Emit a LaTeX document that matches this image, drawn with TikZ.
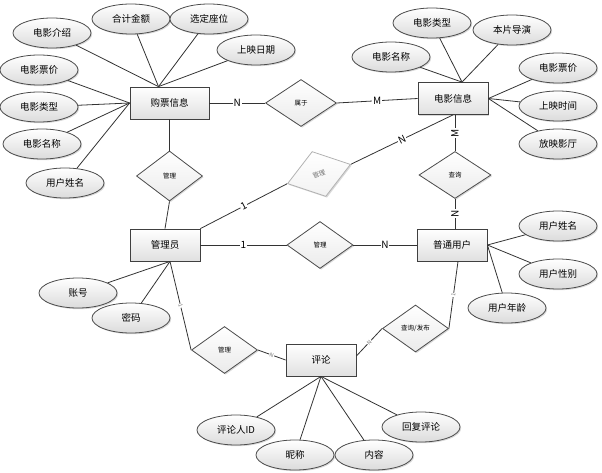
\documentclass[tikz,border=0pt]{standalone}
\usepackage{fontspec}
\setmainfont{Noto Sans CJK SC}
\usepackage{tikz}
\usetikzlibrary{shapes.geometric,shadows}

\begin{document}
\begin{tikzpicture}[x=1pt,y=-1pt,line width=0.8pt,
    every node/.style={font=\fontsize{9.5}{11}\selectfont},
    shade/.style={drop shadow={shadow xshift=1.2pt,shadow yshift=-1.2pt,opacity=.3}},
    entity/.style={rectangle,draw=black!75,minimum width=70pt,minimum height=32pt,
        top color=white,bottom color=black!12,shade},
    attr/.style={ellipse,draw=black!70,minimum width=78pt,minimum height=30pt,inner sep=0pt,
        top color=white,bottom color=black!14,shade},
    relation/.style={diamond,draw=black!70,minimum width=66pt,minimum height=47pt,inner sep=0pt,
        top color=white,bottom color=black!8,shade,font=\fontsize{6.5}{8}\selectfont},
    link/.style={draw=black!80},
    card/.style={fill=white,inner sep=0.8pt,font=\fontsize{10}{11}\selectfont},
    tinycard/.style={fill=white,inner sep=0.5pt,sloped,text=black!55,font=\fontsize{5.5}{6}\selectfont}]

    \useasboundingbox (0,0) rectangle (602,473);

    % Entities
    \node[entity,minimum width=79pt] (ticket) at (169.5,103) {购票信息};
    \node[entity] (movie) at (453,98.5) {电影信息};
    \node[entity] (admin) at (165,245) {管理员};
    \node[entity] (user) at (452,245) {普通用户};
    \node[entity] (comment) at (321,360) {评论};

    % Relations
    \node[relation,minimum width=71pt] (belong) at (301,103) {属于};
    \node[relation,minimum height=50pt] (manT) at (169.5,176) {管理};
    \node[relation,rotate=17,draw=black!30,text=black!55,bottom color=black!5] (manM) at (319,174) {管理};
    \node[relation,minimum width=72pt] (query) at (455,175) {查询};
    \node[relation] (manU) at (320,245) {管理};
    \node[relation] (manC) at (224.5,350) {管理};
    \node[relation] (publish) at (415.5,328.5) {查询/发布};

    % Attributes of 购票信息
    \node[attr] (tIntro) at (52,33) {电影介绍};
    \node[attr] (tTotal) at (131,19) {合计金额};
    \node[attr] (tSeat) at (209,19) {选定座位};
    \node[attr] (tDate) at (256,50) {上映日期};
    \node[attr] (tPrice) at (39,70) {电影票价};
    \node[attr] (tType) at (39,107) {电影类型};
    \node[attr] (tName) at (42,144) {电影名称};
    \node[attr] (tUser) at (65,183) {用户姓名};

    % Attributes of 电影信息
    \node[attr] (mName) at (391,57) {电影名称};
    \node[attr] (mType) at (432,23) {电影类型};
    \node[attr] (mDirector) at (512,30) {本片导演};
    \node[attr] (mPrice) at (558,68) {电影票价};
    \node[attr] (mTime) at (558,106) {上映时间};
    \node[attr] (mHall) at (558,144) {放映影厅};

    % Attributes of 普通用户, 管理员, 评论
    \node[attr] (uName) at (558,226) {用户姓名};
    \node[attr] (uSex) at (558,274) {用户性别};
    \node[attr] (uAge) at (507,308) {用户年龄};
    \node[attr] (aAccount) at (78,293) {账号};
    \node[attr] (aPassword) at (131,318) {密码};
    \node[attr] (cId) at (236,430) {评论人ID};
    \node[attr] (cNick) at (295,455) {昵称};
    \node[attr] (cText) at (374,455) {内容};
    \node[attr] (cReply) at (421,427) {回复评论};

    % Attribute links
    \foreach \a in {tIntro,tTotal,tSeat,tDate}
        \draw[link] (\a) -- ([xshift=-11pt]ticket.north);
    \foreach \a in {tPrice,tType,tName,tUser}
        \draw[link] (\a) -- (ticket.west);
    \foreach \a in {mName,mType,mDirector}
        \draw[link] (\a) -- ([xshift=9pt]movie.north);
    \foreach \a in {mPrice,mTime,mHall}
        \draw[link] (\a) -- (movie.east);
    \foreach \a in {uName,uSex,uAge}
        \draw[link] (\a) -- (user.east);
    \foreach \a in {aAccount,aPassword}
        \draw[link] (\a) -- ([xshift=5pt]admin.south);
    \foreach \a in {cId,cNick,cText,cReply}
        \draw[link] (\a) -- (comment.south);

    % Relation links
    \draw[link] (ticket.east) -- node[card] {N} (belong.west);
    \draw[link] (belong.east) -- node[card] {M} (movie.west);
    \draw[link] (ticket.south) -- (manT.north);
    \draw[link] (manT.south) -- (admin.north);
    \draw[link] (admin.north east) -- node[card,sloped] {1} (manM.west);
    \draw[link] (manM.east) -- node[card,sloped] {N} (movie.south);
    \draw[link] (query.north) -- node[card,rotate=90] {M} (query.north |- movie.south);
    \draw[link] (query.south) -- node[card,rotate=90] {N} (query.south |- user.north);
    \draw[link] (admin.east) -- node[card] {1} (manU.west);
    \draw[link] (manU.east) -- node[card] {N} (user.west);
    \draw[link] ([xshift=5pt]admin.south) -- node[tinycard] {1} (manC.west);
    \draw[link] (manC.east) -- node[tinycard] {N} (comment.west);
    \draw[link] ([yshift=4pt]comment.east) -- node[tinycard] {N} (publish.west);
    \draw[link] (publish.east) -- node[tinycard] {1} ([xshift=6pt]user.south);
\end{tikzpicture}
\end{document}
